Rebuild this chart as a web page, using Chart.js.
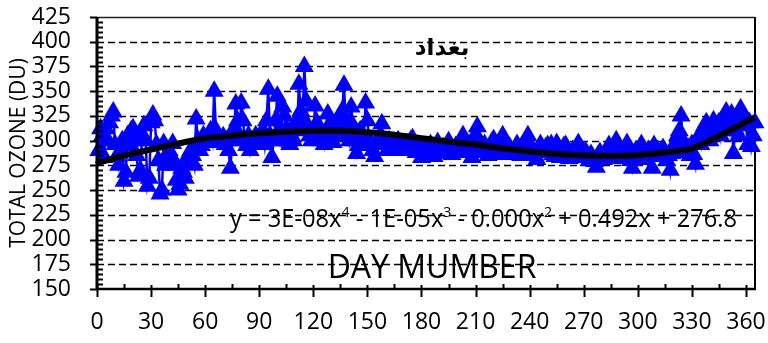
<!DOCTYPE html>
<html><head><meta charset="utf-8">
<script src="https://cdn.jsdelivr.net/npm/chart.js@4/dist/chart.umd.min.js"></script>
<style>html,body{margin:0;padding:0;background:#fff;}#wrap{width:768px;height:343px;}</style>
</head><body><div id="wrap"><canvas id="c" width="768" height="343"></canvas></div>
<script>
// Daily total ozone (DU), days 1..365
const ozoneDU = [
290,312,305,283,312,300,318,325,329,296,
284,275,290,300,259,268,305,295,310,312,
300,285,264,270,305,315,300,254,262,318,
326,320,296,280,246,250,297,275,280,290,
285,297,275,260,250,256,272,268,262,283,
280,290,285,275,322,300,290,295,305,300,
298,303,310,300,350,310,305,298,300,304,
296,300,290,272,300,312,337,320,305,338,
320,300,295,305,290,300,298,305,296,302,
300,310,296,320,352,305,283,300,320,345,
310,300,334,325,312,300,296,305,300,318,
310,357,330,320,375,340,315,305,300,310,
335,318,310,300,305,296,310,327,315,300,
298,310,318,322,305,330,356,320,310,300,
334,315,300,287,295,310,305,300,338,320,
300,296,290,284,296,300,305,317,300,296,
290,300,295,298,290,296,300,293,297,295,
292,290,296,300,302,290,288,295,290,283,
288,292,285,290,296,288,284,292,298,290,
287,293,290,295,299,291,286,290,294,288,
292,296,305,298,290,295,288,283,300,306,
314,300,293,288,296,290,285,292,298,301,
296,290,286,294,305,298,290,287,293,289,
286,292,296,290,285,293,297,301,305,294,
288,290,285,281,292,296,290,288,293,295,
290,296,286,284,297,290,283,288,294,295,
287,282,285,290,286,292,297,288,283,285,
289,283,280,286,282,279,273,285,288,284,
281,286,290,295,288,283,292,300,293,286,
282,288,292,297,289,280,272,286,290,284,
292,296,288,281,285,290,287,272,295,288,
290,284,289,292,288,280,285,270,287,293,
298,305,310,325,300,294,288,292,285,296,
286,276,300,305,296,310,315,318,305,300,
312,320,308,315,318,305,322,315,329,320,
310,327,287,312,320,305,332,325,318,315,
296,318,294,305,318
];
const dayNumbers = ozoneDU.map((_, i) => i + 1);
// Polynomial trend line
const trendDays = [0,15,30,45,60,75,90,105,120,135,150,165,180,195,210,225,240,255,270,285,300,315,330,340,345,355,365];
const trendDU   = [277,285,291,297,302.5,305,307.5,309,310,310,308.5,306,302.5,299,296,292,289,286.5,285,284.5,285.5,288,292,300,304.5,314,323.5];
const xTickLabels = [0,30,60,90,120,150,180,210,240,270,300,330,360];
const yTickLabels = [150,175,200,225,250,275,300,325,350,375,400,425];
const titleText = 'بغداد';
const xTitle = 'DAY MUMBER';
const yTitle = 'TOTAL OZONE (DU)';
const eqParts = [['y = 3E-08x',0],['4',1],[' - 1E-05x',0],['3',1],[' - 0.000x',0],['2',1],[' + 0.492x + 276.8',0]];

const decor = {
  id: 'decor',
  beforeDatasetsDraw(chart) {
    const {ctx, chartArea: a, scales: {y}} = chart;
    ctx.save();
    ctx.strokeStyle = '#000';
    ctx.lineWidth = 1.6;
    ctx.setLineDash([7, 4]);
    for (const v of yTickLabels) {
      if (v === 150 || v === 425) continue;
      const yy = Math.round(y.getPixelForValue(v)) + 0.5;
      ctx.beginPath(); ctx.moveTo(a.left, yy); ctx.lineTo(a.right, yy); ctx.stroke();
    }
    ctx.setLineDash([]);
    ctx.lineWidth = 1.5;
    ctx.strokeStyle = '#222';
    ctx.beginPath(); ctx.moveTo(a.left, a.top + 0.5); ctx.lineTo(a.right, a.top + 0.5); ctx.stroke();
    ctx.lineWidth = 2;
    ctx.strokeStyle = '#000';
    ctx.beginPath(); ctx.moveTo(a.right, a.top); ctx.lineTo(a.right, a.bottom); ctx.stroke();
    ctx.restore();
  },
  afterDatasetsDraw(chart) {
    const {ctx, chartArea: a, scales: {x, y}} = chart;
    ctx.save();
    ctx.strokeStyle = '#000';
    ctx.lineWidth = 3;
    ctx.beginPath(); ctx.moveTo(a.left, a.top); ctx.lineTo(a.left, a.bottom + 1); ctx.stroke();
    ctx.lineWidth = 2.5;
    ctx.beginPath(); ctx.moveTo(a.left, a.bottom); ctx.lineTo(a.right + 1, a.bottom); ctx.stroke();
    ctx.lineWidth = 2;
    for (let v = 150; v <= 425; v += 5) {
      const yy = Math.round(y.getPixelForValue(v)) + 0.5;
      ctx.beginPath();
      if (v % 25 === 0) { ctx.moveTo(a.left - 7, yy); ctx.lineTo(a.left, yy); }
      else { ctx.moveTo(a.left, yy); ctx.lineTo(a.left + 6, yy); }
      ctx.stroke();
    }
    for (let d = 0; d <= 365; d += 15) {
      const xx = Math.round(x.getPixelForValue(d)) + 0.5;
      ctx.beginPath();
      if (d % 30 === 0) { ctx.moveTo(xx, a.bottom - 4); ctx.lineTo(xx, a.bottom + 8); }
      else { ctx.moveTo(xx, a.bottom - 5); ctx.lineTo(xx, a.bottom); }
      ctx.stroke();
    }
    ctx.fillStyle = '#000';
    ctx.font = 'bold 23px "DejaVu Sans"';
    ctx.textAlign = 'center'; ctx.textBaseline = 'middle';
    ctx.fillText(titleText, 442, 49);
    ctx.font = '32px "Open Sans"';
    ctx.textBaseline = 'alphabetic';
    ctx.fillText(xTitle, 432, 278);
    const baseF = '25px "Open Sans"', supF = '15px "Open Sans"';
    let w = 0;
    for (const [t, s] of eqParts) { ctx.font = s ? supF : baseF; w += ctx.measureText(t).width; }
    const sx = 507 / w;
    ctx.save();
    ctx.translate(230, 227);
    ctx.scale(sx, 1);
    ctx.textAlign = 'left';
    let cx = 0;
    for (const [t, s] of eqParts) {
      ctx.font = s ? supF : baseF;
      ctx.fillText(t, cx, s ? -10 : 0);
      cx += ctx.measureText(t).width;
    }
    ctx.restore();
    ctx.save();
    ctx.translate(19, (a.top + a.bottom) / 2);
    ctx.rotate(-Math.PI / 2);
    ctx.font = '21px "Open Sans"';
    ctx.textAlign = 'center'; ctx.textBaseline = 'middle';
    ctx.fillText(yTitle, 0, 0);
    ctx.restore();
    ctx.restore();
  }
};

const tickFont = {family: 'Open Sans', size: 23};
new Chart(document.getElementById('c').getContext('2d'), {
  type: 'line',
  data: {
    datasets: [
      {
        label: 'Trend', data: trendDays.map((d, i) => ({x: d, y: trendDU[i]})),
        borderColor: '#000', borderWidth: 6, pointRadius: 0,
        cubicInterpolationMode: 'monotone', order: 0, clip: false
      },
      {
        label: 'Ozone', data: dayNumbers.map((d, i) => ({x: d, y: ozoneDU[i]})),
        borderColor: '#0000FF', backgroundColor: '#0000FF', borderWidth: 2.5,
        pointStyle: 'triangle', pointRadius: 9.5, pointBorderWidth: 1.5,
        pointBackgroundColor: '#0000FF', pointBorderColor: '#0000FF',
        tension: 0, order: 1, clip: false
      }
    ]
  },
  options: {
    responsive: false, animation: false, events: [],
    layout: {padding: {top: 17, right: 13, left: 0, bottom: 0}},
    plugins: {legend: {display: false}, tooltip: {enabled: false}},
    scales: {
      x: {
        type: 'linear', min: 0, max: 365,
        afterBuildTicks: s => { s.ticks = xTickLabels.map(v => ({value: v})); },
        ticks: {font: tickFont, color: '#000', padding: 20, maxRotation: 0, autoSkip: false},
        grid: {display: false, drawTicks: false}, border: {display: false},
        afterFit: s => { s.height = 54; s.paddingLeft = 0; s.paddingRight = 0; }
      },
      y: {
        type: 'linear', min: 150, max: 425,
        afterBuildTicks: s => { s.ticks = yTickLabels.map(v => ({value: v})); },
        ticks: {font: tickFont, color: '#000', padding: 26, autoSkip: false},
        grid: {display: false, drawTicks: false}, border: {display: false},
        afterFit: s => { s.width = 97; s.paddingTop = 0; s.paddingBottom = 0; }
      }
    }
  },
  plugins: [decor]
});
</script>
</body></html>
